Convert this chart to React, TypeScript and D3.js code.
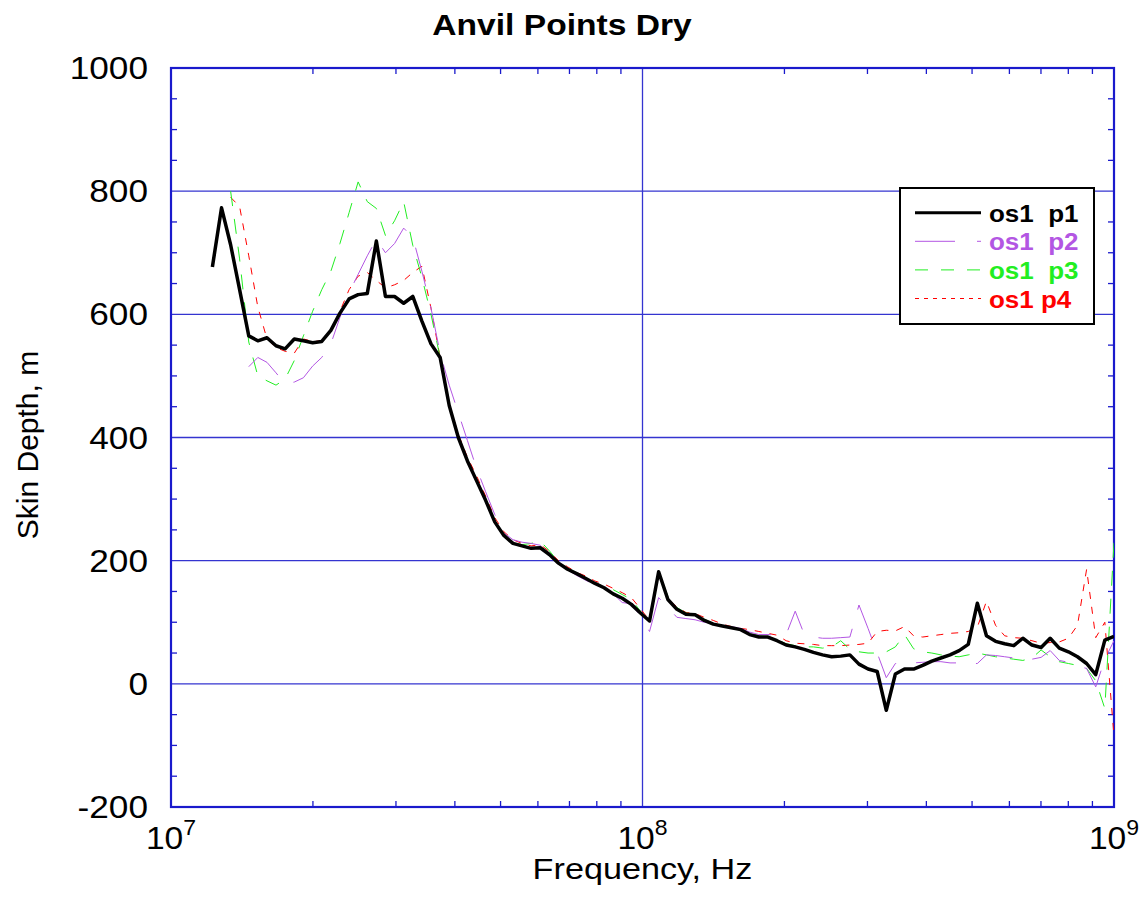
import React from "react";
import * as d3 from "d3";

// Frequencies (MHz) of the sweep, shared by all series
const FREQ_MHZ = [
  12.24, 12.8, 13.38, 13.98, 14.62, 15.28, 15.98, 16.7, 17.46, 18.26,
  19.09, 19.97, 20.88, 21.83, 22.82, 23.86, 24.94, 26.08, 27.26, 28.5,
  29.8, 31.15, 32.57, 34.05, 35.6, 37.22, 38.91, 40.68, 42.53, 44.46,
  46.48, 48.6, 50.81, 53.12, 55.53, 58.06, 60.7, 63.46, 66.34, 69.36,
  72.51, 75.83, 79.27, 82.88, 86.64, 90.58, 94.7, 99.0, 103.5, 108.2,
  113.2, 118.3, 123.6, 129.3, 135.2, 141.3, 147.7, 154.4, 161.5, 168.8,
  176.5, 184.5, 192.9, 201.7, 210.8, 220.4, 230.4, 240.9, 251.9, 263.3,
  275.3, 287.8, 300.9, 314.6, 328.9, 343.8, 359.5, 375.8, 392.9, 410.8,
  429.4, 449.0, 469.4, 490.8, 513.1, 536.4, 560.8, 586.3, 612.9, 640.8,
  669.9, 700.4, 732.2, 765.5, 800.3, 836.7, 874.8, 914.6, 956.2, 1000,
];

const P1 = [
  677, 773, 713, 640, 565, 557, 562, 549, 544, 560,
  557, 554, 556, 574, 602, 625, 632, 634, 719, 629,
  629, 618, 629, 589, 552, 530, 452, 400, 362, 330,
  298, 263, 241, 228, 224, 220, 221, 210, 196, 186,
  179, 171, 163, 156, 146, 139, 129, 115, 102, 182,
  137, 121, 113, 112, 103, 97, 94, 91, 88, 80,
  76, 76, 70, 63, 60, 56, 51, 47, 44, 45,
  47, 32, 24, 20, -43, 16, 24, 24, 30, 37,
  42, 47, 54, 64, 131, 78, 69, 65, 62, 74,
  63, 59, 74, 58, 52, 44, 33, 15, 71, 77,
];

const P2 = [
  null, null, null, null, 515, 530, 522, 505, 487, 490,
  497, 516, 530, 552, 595, 635, 665, 695, 722, 700,
  715, 740, 725, 670, 610, 537, 485, 440, 395, 350,
  312, 275, 245, 234, 230, 228, 225, 212, 196, 185,
  176, 168, 161, 154, 146, 132, 130, 110, 85, 140,
  124, 108, 106, 104, 100, 98, 95, 93, 90, 84,
  80, 80, 79, 80, 118, 80, 76, 74, 74, 75,
  76, 128, 90, 50, 10, 33, 33, 34, 35, 36,
  36, 34, 34, 33, 33, 47, 46, 44, 42, 40,
  40, 43, 54, 38, 35, 29, 25, -5, 40, 70,
];

const P3 = [
  null, null, 800, 690, 555, 500, 492, 485, 495, 525,
  565, 605, 640, 670, 715, 765, 815, 783, 772, 728,
  752, 783, 712, 660, 600, 530, 455, 402, 365, 332,
  300, 265, 242, 230, 226, 228, 232, 216, 198, 188,
  180, 172, 164, 158, 153, 145, 137, 118, 102, 183,
  142, 124, 115, 113, 105, 98, 95, 92, 89, 83,
  78, 76, 72, 65, 62, 60, 60, 58, 60, 70,
  56, 52, 50, 50, 52, 60, 80, 57, 52, 50,
  47, 45, 44, 47, 50, 47, 44, 42, 40, 38,
  42, 55, 44, 36, 33, 30, 25, 5, -40, 230,
];

const P4 = [
  null, null, 790, 775, 695, 612, 560, 546, 540, 537,
  560, 556, 557, 575, 605, 640, 662, 668, 655, 643,
  648, 655, 668, 678, 610, 530, 455, 405, 368, 338,
  305, 270, 247, 234, 228, 224, 226, 215, 200, 190,
  181, 175, 167, 162, 155, 148, 140, 122, 103, 178,
  138, 125, 116, 114, 108, 103, 97, 93, 90, 88,
  85, 82, 79, 70, 66, 65, 64, 62, 62, 62,
  63, 64, 66, 85, 87, 86, 93, 78, 76, 78,
  80, 82, 83, 85, 92, 134, 95, 78, 75, 74,
  70, 66, 67, 68, 74, 95, 186, 75, 100, -85,
];

const SERIES_NAMES = ["os1  p1", "os1  p2", "os1  p3", "os1 p4"];
const SERIES_COLORS = ["#000000", "#b356e3", "#22ee22", "#ff0000"];
const SERIES_WIDTHS = [3.5, 1, 1, 1];
const SERIES_DASH = ["", "40,20", "15,13", "7,8"];
const LEGEND_DASH = ["", "40,22", "13,13", "4,5"];
const Y_TICKS = [-200, 0, 200, 400, 600, 800, 1000];
const X_DECADES = [7, 8, 9];
const TITLE = "Anvil Points Dry";
const X_LABEL = "Frequency, Hz";
const Y_LABEL = "Skin Depth, m";

const W = 1148;
const H = 909;
const L = 171;
const R = 1114;
const T = 68;
const B = 807;
const BLUE = "#1a1acc";
const GRID = "#3434d0";
const FONT = "'Liberation Sans', Arial, Helvetica, sans-serif";
const SX = 1.12; // horizontal stretch of the original rendering's text

export default function App() {
  const x = d3.scaleLog().domain([1e7, 1e9]).range([L, R]);
  const y = d3.scaleLinear().domain([-200, 1000]).range([B, T]);
  const allSeries = [P1, P2, P3, P4];

  const line = d3
    .line<[number, number | null]>()
    .defined((d) => d[1] !== null)
    .x((d) => x(d[0] * 1e6))
    .y((d) => y(d[1] as number));

  const minorY = d3.range(-200, 1001, 50).filter((v) => v % 200 !== 0);
  const minorX: number[] = [];
  for (const e of [7, 8]) {
    for (let k = 2; k <= 9; k++) minorX.push(k * Math.pow(10, e));
  }

  return (
    <svg
      width={W}
      height={H}
      style={{ position: "absolute", left: 0, top: 0, background: "#fff" }}
      fontFamily={FONT}
    >
      <defs>
        <clipPath id="plotclip">
          <rect x={L} y={T - 2} width={R - L} height={B - T + 4} />
        </clipPath>
      </defs>
      <g transform={`translate(562,35) scale(${SX},1)`}>
        <text x={0} y={0} textAnchor="middle" fontSize={30} fontWeight="bold">
          {TITLE}
        </text>
      </g>

      {/* gridlines */}
      {Y_TICKS.filter((v) => v > -200 && v < 1000).map((v) => (
        <line key={"gy" + v} x1={L} x2={R} y1={y(v)} y2={y(v)} stroke={GRID} strokeWidth={1.3} />
      ))}
      <line x1={x(1e8)} x2={x(1e8)} y1={T} y2={B} stroke={GRID} strokeWidth={1.3} />

      {/* minor ticks */}
      {minorY.map((v) => (
        <g key={"my" + v}>
          <line x1={L} x2={L + 6} y1={y(v)} y2={y(v)} stroke={BLUE} strokeWidth={1.3} />
          <line x1={R - 6} x2={R} y1={y(v)} y2={y(v)} stroke={BLUE} strokeWidth={1.3} />
        </g>
      ))}
      {minorX.map((v) => (
        <g key={"mx" + v}>
          <line x1={x(v)} x2={x(v)} y1={B} y2={B - 6} stroke={BLUE} strokeWidth={1.3} />
          <line x1={x(v)} x2={x(v)} y1={T} y2={T + 6} stroke={BLUE} strokeWidth={1.3} />
        </g>
      ))}

      {/* frame */}
      <rect x={L} y={T} width={R - L} height={B - T} fill="none" stroke={BLUE} strokeWidth={2.2} />

      {/* series */}
      <g clipPath="url(#plotclip)">
        {[3, 2, 1, 0].map((si) => {
          const data = FREQ_MHZ.map((f, i) => [f, allSeries[si][i]] as [number, number | null]);
          return (
            <path
              key={"s" + si}
              d={line(data) || ""}
              fill="none"
              stroke={SERIES_COLORS[si]}
              strokeWidth={SERIES_WIDTHS[si]}
              strokeDasharray={SERIES_DASH[si] || undefined}
              strokeLinejoin="round"
            />
          );
        })}
      </g>

      {/* y tick labels */}
      {Y_TICKS.map((v) => (
        <g key={"yl" + v} transform={`translate(148,${y(v) + 11}) scale(1.1,1)`}>
          <text x={0} y={0} textAnchor="end" fontSize={32}>
            {v}
          </text>
        </g>
      ))}
      {/* x tick labels */}
      {X_DECADES.map((e) => (
        <g key={"xl" + e} transform={`translate(${x(Math.pow(10, e))},849) scale(1.05,1)`}>
          <text x={0} y={0} textAnchor="middle" fontSize={32}>
            10
            <tspan dy={-14} fontSize={22}>
              {e}
            </tspan>
          </text>
        </g>
      ))}

      <g transform={`translate(${(L + R) / 2},879) scale(1.14,1)`}>
        <text x={0} y={0} textAnchor="middle" fontSize={30}>
          {X_LABEL}
        </text>
      </g>
      <text transform={`translate(38,445) rotate(-90)`} textAnchor="middle" fontSize={30}>
        {Y_LABEL}
      </text>

      {/* legend */}
      <rect x={900} y={188} width={194} height={136} fill="#fff" stroke="#000" strokeWidth={2} />
      {SERIES_NAMES.map((n, i) => {
        const ly = 212.7 + i * 28.6;
        return (
          <g key={"lg" + i}>
            <line
              x1={915}
              x2={981}
              y1={ly}
              y2={ly}
              stroke={SERIES_COLORS[i]}
              strokeWidth={i === 0 ? 3 : 1}
              strokeDasharray={LEGEND_DASH[i] || undefined}
            />
            <g transform={`translate(989,${ly + 9}) scale(1.13,1)`}>
              <text
                x={0}
                y={0}
                fontSize={23}
                fontWeight="bold"
                fill={SERIES_COLORS[i]}
                style={{ whiteSpace: "pre" }}
              >
                {n}
              </text>
            </g>
          </g>
        );
      })}
    </svg>
  );
}
